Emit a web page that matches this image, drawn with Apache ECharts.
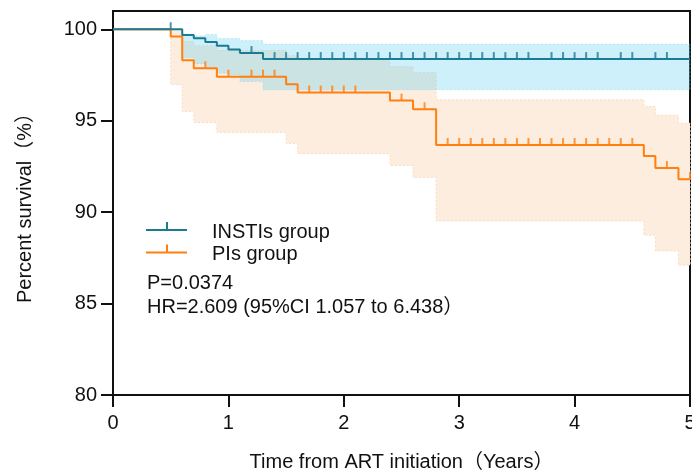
<!DOCTYPE html>
<html>
<head>
<meta charset="utf-8">
<title>Survival</title>
<script src="https://cdn.jsdelivr.net/npm/echarts/dist/echarts.min.js"></script>
<style>
  html, body { margin: 0; padding: 0; background: #fff; }
  #main { width: 692px; height: 470px; }
</style>
</head>
<body>
<div id="main"></div>
<script>
var fontFam = "'Liberation Sans', Arial, 'Noto Sans CJK SC', sans-serif";

// axis ranges / tick labels
var xTicks = [0, 1, 2, 3, 4, 5];
var yTicks = [80, 85, 90, 95, 100];
var xMax = 5;

// INSTIs group: KM steps
var instiTimes = [0, 0.6, 0.7, 0.8, 0.9, 1.0, 1.1, 1.3];
var instiSurv = [100, 99.69, 99.51, 99.31, 99.1, 98.9, 98.7, 98.37];
// 95% CI band
var instiBandTimes = [0.6, 0.7, 0.8, 0.9, 1.0, 1.1, 1.3];
var instiUpper = [99.74, 99.64, 99.72, 99.5, 99.5, 99.38, 99.19];
var instiLower = [98.45, 98.1, 97.95, 97.6, 97.5, 97.14, 96.69];
// censored times
var instiCensor = [0.5, 1.2, 1.4, 1.5, 1.6, 1.7, 1.8, 1.9, 2.0, 2.1, 2.2, 2.3, 2.4, 2.5, 2.6, 2.7, 2.8,
  2.9, 3.0, 3.1, 3.2, 3.3, 3.4, 3.5, 3.6, 3.8, 3.9, 4.0, 4.1, 4.2, 4.4, 4.5, 4.7, 4.8];

// PIs group
var piTimes = [0, 0.5, 0.6, 0.7, 0.9, 1.5, 1.6, 2.4, 2.6, 2.8, 4.6, 4.7, 4.9];
var piSurv = [100, 99.6, 98.3, 97.87, 97.41, 97.0, 96.54, 96.1, 95.63, 93.67, 93.07, 92.41, 91.8];
var piBandTimes = [0.5, 0.6, 0.7, 0.9, 1.5, 1.6, 2.4, 2.6, 2.8, 4.6, 4.7, 4.9];
var piUpper = [100, 99.33, 99.1, 98.84, 98.55, 98.4, 97.96, 97.63, 96.15, 95.78, 95.3, 94.86];
var piLower = [96.97, 95.5, 94.9, 94.36, 93.76, 93.2, 92.55, 91.9, 89.52, 88.74, 87.88, 87.1];
var piCensor = [0.8, 1.0, 1.2, 1.3, 1.4, 1.7, 1.8, 1.9, 2.0, 2.1, 2.5, 2.7, 2.9, 3.0, 3.1, 3.2, 3.3,
  3.4, 3.5, 3.6, 3.7, 3.8, 3.9, 4.0, 4.1, 4.2, 4.3, 4.4, 4.5, 4.8, 5.0];

var tealColor = '#1b7a94';
var orangeColor = '#ff7f10';
var textColor = '#111';

function stepData(times, surv) {
  var d = [];
  for (var i = 0; i < times.length; i++) d.push([times[i], surv[i]]);
  d.push([xMax, surv[surv.length - 1]]);
  return d;
}

function survAt(times, surv, t) {
  var v = surv[0];
  for (var i = 0; i < times.length; i++) {
    if (times[i] <= t + 1e-9) v = surv[i];
  }
  return v;
}

function censorData(cens, times, surv) {
  return cens.map(function (t) { return [t, survAt(times, surv, t)]; });
}

// CI band as one step polygon
function bandSeries(name, times, upper, lower, fill, border) {
  return {
    type: 'custom',
    name: name,
    silent: true,
    data: [[times[0], lower[0]]],
    renderItem: function (params, api) {
      var pts = [];
      var i, t1;
      for (i = 0; i < times.length; i++) {
        t1 = i + 1 < times.length ? times[i + 1] : xMax;
        pts.push(api.coord([times[i], upper[i]]));
        pts.push(api.coord([t1, upper[i]]));
      }
      for (i = times.length - 1; i >= 0; i--) {
        t1 = i + 1 < times.length ? times[i + 1] : xMax;
        pts.push(api.coord([t1, lower[i]]));
        pts.push(api.coord([times[i], lower[i]]));
      }
      return {
        type: 'polygon',
        shape: { points: pts },
        style: { fill: fill, stroke: border, lineWidth: 1, lineDash: [2, 2] }
      };
    }
  };
}

function censorSeries(name, data, color) {
  return {
    type: 'scatter',
    name: name + ' censor',
    data: data,
    symbol: 'rect',
    symbolSize: [2, 7],
    symbolOffset: [0, -3.5],
    itemStyle: { color: color },
    silent: true
  };
}

// line with a small tick; the tiny square at the bottom only stretches the box
var legendIcon = 'path://M0,7h41v2H0z M20,0h2v7h-2z M0,20h0.01v0.01h-0.01z';

function legendItem(name, top) {
  return {
    data: [name], left: 146, top: top, padding: 0,
    icon: legendIcon, itemWidth: 41, itemHeight: 20,
    itemStyle: { borderWidth: 0 },
    textStyle: { fontSize: 20, color: textColor, fontFamily: fontFam, padding: [0, 0, 0, 20] },
    selectedMode: false
  };
}

var myChart = echarts.init(document.getElementById('main'));

var option = {
  animation: false,
  textStyle: { fontFamily: fontFam },
  grid: {
    left: 113, right: 2, top: 11, bottom: 75,
    outerBoundsMode: 'none',
    containLabel: false,
    show: true, borderColor: '#111', borderWidth: 2, backgroundColor: 'transparent'
  },
  legend: [
    legendItem('INSTIs group', 222),
    legendItem('PIs group', 244.5)
  ],
  xAxis: {
    type: 'value', min: 0, max: xMax, interval: 1,
    name: 'Time from ART initiation（Years）',
    nameLocation: 'middle', nameGap: 57,
    nameTextStyle: { fontSize: 20, color: textColor, fontFamily: fontFam },
    axisLine: { lineStyle: { color: '#111', width: 2 } },
    axisTick: { length: 12, lineStyle: { color: '#111', width: 2 } },
    axisLabel: {
      fontSize: 20, color: textColor, margin: 18, fontFamily: fontFam,
      customValues: xTicks
    },
    splitLine: { show: false }
  },
  yAxis: {
    type: 'value', min: 80, max: 101,
    name: 'Percent survival（%）',
    nameLocation: 'middle', nameGap: 78,
    nameTextStyle: { fontSize: 20, color: textColor, fontFamily: fontFam },
    axisLine: { show: true, lineStyle: { color: '#111', width: 2 } },
    axisTick: { show: true, length: 12, lineStyle: { color: '#111', width: 2 }, customValues: yTicks },
    axisLabel: { fontSize: 20, color: textColor, margin: 16, fontFamily: fontFam, customValues: yTicks },
    splitLine: { show: false }
  },
  graphic: [
    {
      type: 'text', left: 147, top: 273,
      style: { text: 'P=0.0374', fontSize: 20, fontFamily: fontFam, fill: textColor }
    },
    {
      type: 'text', left: 147, top: 297,
      style: { text: 'HR=2.609 (95%CI 1.057 to 6.438）', fontSize: 20, fontFamily: fontFam, fill: textColor }
    }
  ],
  series: [
    bandSeries('PIs CI', piBandTimes, piUpper, piLower, '#fdeddf', '#f8dcc4'),
    {
      type: 'line', name: 'PIs group', step: 'end', showSymbol: false, symbol: 'none',
      data: stepData(piTimes, piSurv),
      lineStyle: { color: orangeColor, width: 2 },
      itemStyle: { color: orangeColor }
    },
    censorSeries('PIs', censorData(piCensor, piTimes, piSurv), orangeColor),
    bandSeries('INSTIs CI', instiBandTimes, instiUpper, instiLower, 'rgba(88,205,238,0.3)', 'rgba(120,205,230,0.35)'),
    {
      type: 'line', name: 'INSTIs group', step: 'end', showSymbol: false, symbol: 'none',
      data: stepData(instiTimes, instiSurv),
      lineStyle: { color: tealColor, width: 2 },
      itemStyle: { color: tealColor }
    },
    censorSeries('INSTIs', censorData(instiCensor, instiTimes, instiSurv), tealColor)
  ]
};

myChart.setOption(option);
</script>
</body>
</html>
